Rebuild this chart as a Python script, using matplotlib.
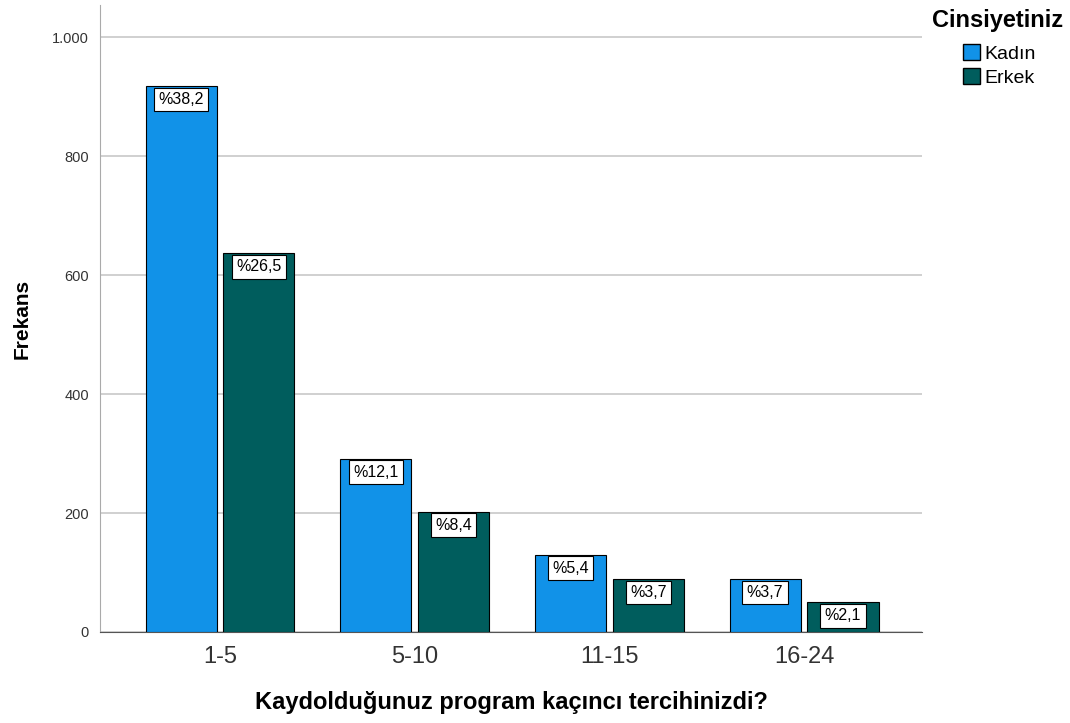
import numpy as np
import matplotlib
matplotlib.use("Agg")
import matplotlib.pyplot as plt
from matplotlib.ticker import FuncFormatter
from matplotlib.patches import Patch

plt.rcParams['font.family'] = ['Liberation Sans', 'DejaVu Sans']

categories = ['1-5', '5-10', '11-15', '16-24']
kadin = [918, 291, 130, 89]
erkek = [637, 202, 89, 50]
kadin_pct = ['%38,2', '%12,1', '%5,4', '%3,7']
erkek_pct = ['%26,5', '%8,4', '%3,7', '%2,1']

c_kadin = '#1192E8'
c_erkek = '#005D5D'

fig = plt.figure(figsize=(10.7, 7.23), dpi=100)
ax = fig.add_axes([0.0935, 0.1259, 0.7682, 0.867])

x = np.arange(len(categories))
w = 0.365
off = 0.2
b1 = ax.bar(x - off, kadin, w, color=c_kadin, edgecolor='black', linewidth=0.8, zorder=3)
b2 = ax.bar(x + off, erkek, w, color=c_erkek, edgecolor='black', linewidth=0.8, zorder=3)

# percentage boxes hanging from the bar tops
for bars, labels in ((b1, kadin_pct), (b2, erkek_pct)):
    for b, lab in zip(bars, labels):
        ax.annotate(lab, (b.get_x() + b.get_width() / 2, b.get_height()),
                    xytext=(0, -4.3), textcoords='offset points',
                    ha='center', va='top', fontsize=11.5, zorder=5,
                    bbox=dict(boxstyle='square,pad=0.28', fc='white', ec='black', lw=0.8))

ax.set_xlim(-0.616, 3.606)
ax.set_ylim(0, 1054)
ax.set_yticks([0, 200, 400, 600, 800, 1000])
ax.yaxis.set_major_formatter(FuncFormatter(lambda v, p: f'{int(v):,}'.replace(',', '.')))
ax.set_xticks(x)
ax.set_xticklabels(categories, fontsize=17, color='#333333')
ax.tick_params(axis='y', labelsize=10.5, labelcolor='#333333', length=0, pad=8)
ax.tick_params(axis='x', length=0, pad=10)
ax.grid(axis='y', color='#C8C8C8', linewidth=1.2, zorder=0)

for s in ('top', 'right'):
    ax.spines[s].set_visible(False)
ax.spines['left'].set_color('#AAAAAA')
ax.spines['bottom'].set_color('#555555')

ax.set_ylabel('Frekans', fontsize=15, fontweight='bold', labelpad=15)
ax.set_xlabel('Kaydolduğunuz program kaçıncı tercihinizdi?', fontsize=17,
              fontweight='bold', labelpad=17)

fig.text(932 / 1070, 1 - 20 / 723, 'Cinsiyetiniz', fontsize=17, fontweight='bold',
         ha='left', va='center')
handles = [Patch(facecolor=c_kadin, edgecolor='black', label='Kadın'),
           Patch(facecolor=c_erkek, edgecolor='black', label='Erkek')]
fig.legend(handles=handles, loc='upper left',
           bbox_to_anchor=(963 / 1070, 1 - 44 / 723), frameon=False, fontsize=14,
           handlelength=0.88, handleheight=0.88, handletextpad=0.2,
           labelspacing=0.29, borderaxespad=0, borderpad=0)

fig.savefig('out.png', dpi=100)
